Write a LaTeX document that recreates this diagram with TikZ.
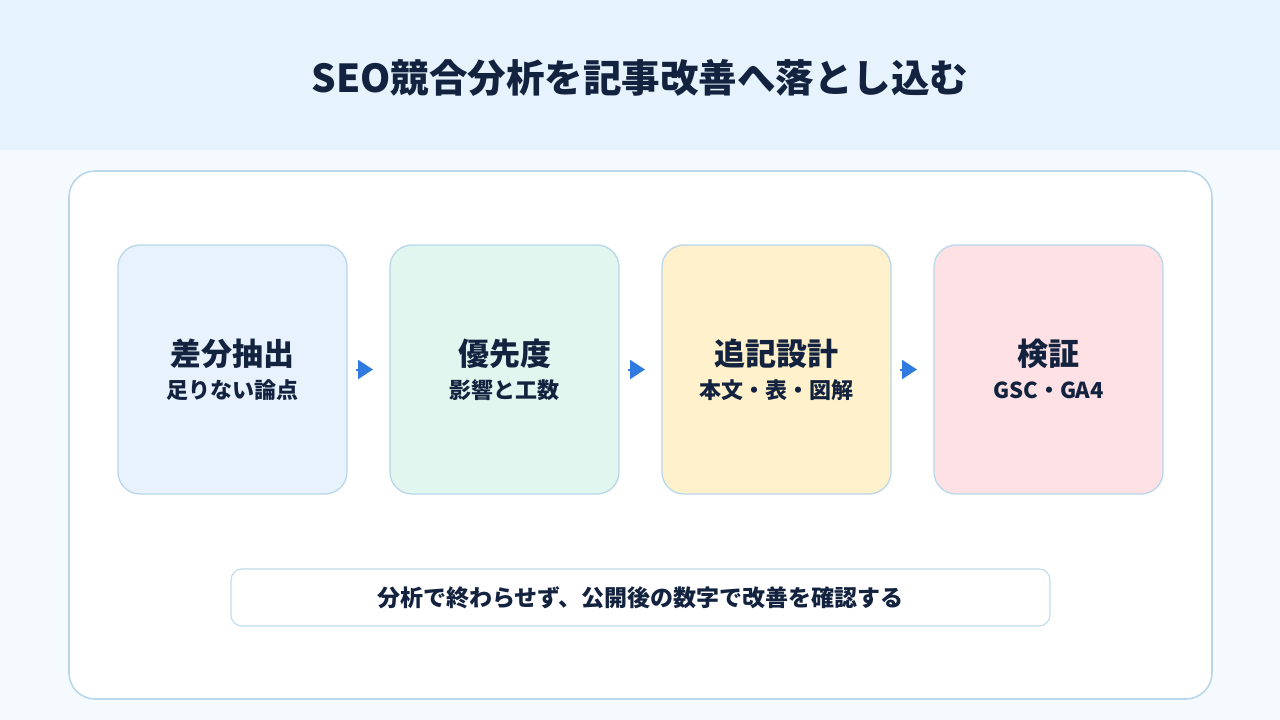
\documentclass[tikz,border=0pt]{standalone}
\usepackage{fontspec}
\setmainfont{Noto Sans CJK JP}
\usepackage{tikz}
\usetikzlibrary{arrows.meta,positioning}
\definecolor{seoInk}{HTML}{13233F}
\definecolor{seoBand}{HTML}{E6F3FD}
\definecolor{seoPage}{HTML}{F5FAFE}
\definecolor{seoLine}{HTML}{B9D7EA}
\definecolor{seoBlue}{HTML}{2F7BE0}
\definecolor{seoStepA}{HTML}{E8F2FD}
\definecolor{seoStepB}{HTML}{E0F6EE}
\definecolor{seoStepC}{HTML}{FEF1CC}
\definecolor{seoStepD}{HTML}{FDE1E4}

\begin{document}
\begin{tikzpicture}[x=1pt,y=-1pt,font=\bfseries,text=seoInk,
  panel/.style={draw=seoLine,line width=1.6pt,fill=white,rounded corners=26pt,
                minimum width=1143pt,minimum height=528pt,inner sep=0pt},
  stepbox/.style={draw=seoLine,line width=1.3pt,rounded corners=22pt,
                  minimum width=229pt,minimum height=249pt,inner sep=0pt,outer sep=0pt},
  steptitle/.style={font=\bfseries\fontsize{31}{36}\selectfont,inner sep=0pt},
  stepsub/.style={font=\bfseries\fontsize{22}{26}\selectfont,inner sep=0pt},
  flowarrow/.style={seoBlue,line width=2pt,shorten <=9pt,shorten >=17pt,
                    -{Triangle[length=15pt,width=19pt]}},
  notebox/.style={draw=seoLine!85,line width=1.2pt,fill=white,rounded corners=11pt,
                  minimum width=819pt,minimum height=57pt,inner sep=0pt,
                  font=\bfseries\fontsize{23}{27}\selectfont}]
  \useasboundingbox (0,0) rectangle (1280,720);
  \fill[seoBand] (0,0) rectangle (1280,150);
  \fill[seoPage] (0,150) rectangle (1280,720);
  \node[font=\bfseries\fontsize{38.5}{44}\selectfont] (title) at (640,78)
    {SEO競合分析を記事改善へ落とし込む};
  \node[panel] (panel) at (640.5,435) {};
  % four steps
  \node[stepbox,fill=seoStepA] (s1) at (232.5,369.5) {};
  \node[stepbox,fill=seoStepB,right=43pt of s1] (s2) {};
  \node[stepbox,fill=seoStepC,right=43pt of s2] (s3) {};
  \node[stepbox,fill=seoStepD,right=43pt of s3] (s4) {};
  \node[steptitle] (s1t) at ([yshift=15.5pt]s1.center) {差分抽出};
  \node[stepsub]   (s1s) at ([yshift=-20.5pt]s1.center) {足りない論点};
  \node[steptitle] (s2t) at ([yshift=15.5pt]s2.center) {優先度};
  \node[stepsub]   (s2s) at ([yshift=-20.5pt]s2.center) {影響と工数};
  \node[steptitle] (s3t) at ([yshift=15.5pt]s3.center) {追記設計};
  \node[stepsub]   (s3s) at ([yshift=-20.5pt]s3.center) {本文・表・図解};
  \node[steptitle] (s4t) at ([yshift=15.5pt]s4.center) {検証};
  \node[stepsub]   (s4s) at ([yshift=-20.5pt]s4.center) {GSC・GA4};
  \draw[flowarrow] (s1) -- (s2);
  \draw[flowarrow] (s2) -- (s3);
  \draw[flowarrow] (s3) -- (s4);
  \node[notebox] (note) at (640.5,597.5)
    {分析で終わらせず、公開後の数字で改善を確認する};
\end{tikzpicture}
\end{document}
